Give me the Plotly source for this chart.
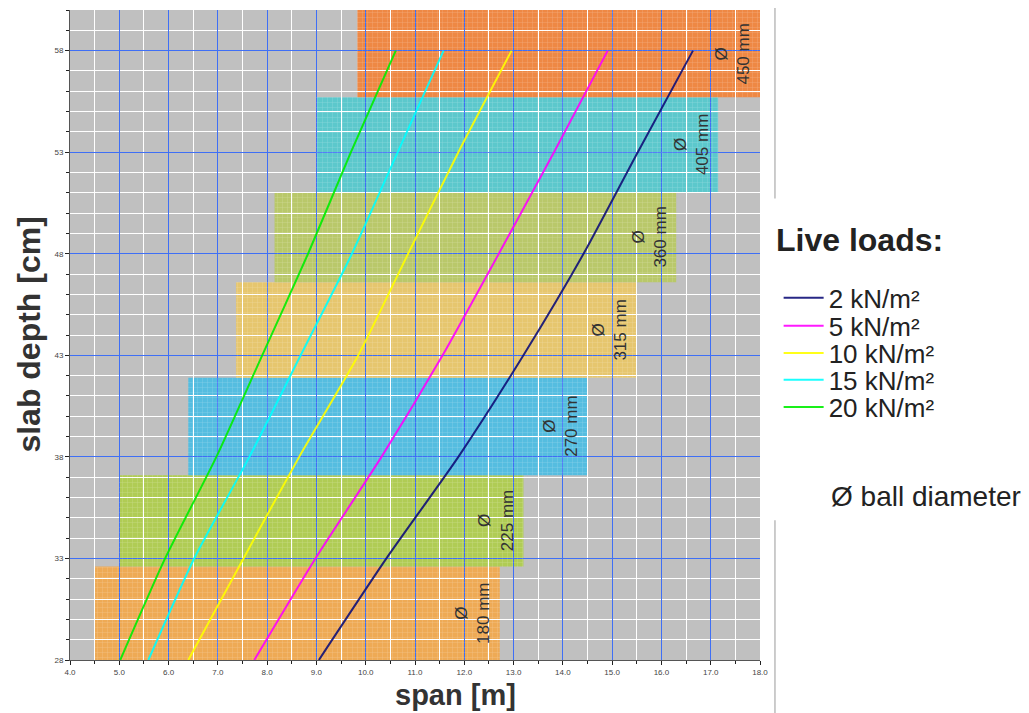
import plotly.graph_objects as go

# ---- data ----
depth = [28, 33, 38, 43, 48, 53, 58]  # slab depth [cm]
span_2kn = [9.05, 10.42, 11.88, 13.20, 14.42, 15.52, 16.64]
span_5kn = [7.74, 8.98, 10.32, 11.56, 12.70, 13.82, 14.91]
span_10kn = [6.40, 7.52, 8.65, 9.85, 10.86, 11.88, 12.96]
span_15kn = [5.59, 6.52, 7.64, 8.68, 9.72, 10.65, 11.58]
span_20kn = [5.02, 5.93, 6.97, 7.90, 8.83, 9.70, 10.61]

load_names = ["2 kN/m²", "5 kN/m²", "10 kN/m²", "15 kN/m²", "20 kN/m²"]
load_colors = ["#101078", "#ff00ff", "#ffff00", "#00ffff", "#00ee00"]

ball_labels = ["180 mm", "225 mm", "270 mm", "315 mm", "360 mm", "405 mm", "450 mm"]
band_span_min = [4.5, 5.0, 6.4, 7.37, 8.15, 9.0, 9.83]
band_span_max = [12.72, 13.2, 14.5, 15.5, 16.3, 17.15, 18.0]
band_depth_min = [28.0, 32.6, 37.1, 41.9, 46.6, 51.0, 55.7]
band_depth_max = [32.6, 37.1, 41.9, 46.6, 51.0, 55.7, 60.0]
band_colors = ["#eeaa55", "#b0cc55", "#55bde0", "#e6c66e", "#b9c86a", "#5cc8cc", "#ee8844"]

x_ticks = [4.0 + i for i in range(15)]
y_ticks = [28, 33, 38, 43, 48, 53, 58]

FONT = "Arial, Liberation Sans, sans-serif"

fig = go.Figure()

# Band fills (below gridlines) and texture
shapes = []
for x0, x1, y0, y1, c in zip(band_span_min, band_span_max, band_depth_min, band_depth_max, band_colors):
    shapes.append(dict(type="rect", xref="x", yref="y", x0=x0, x1=x1, y0=y0, y1=y1,
                       fillcolor=c, line=dict(width=0), layer="below"))

fig.add_trace(go.Bar(
    x=[(a + b) / 2 for a, b in zip(band_span_min, band_span_max)],
    width=[b - a for a, b in zip(band_span_min, band_span_max)],
    base=band_depth_min,
    y=[b - a for a, b in zip(band_depth_min, band_depth_max)],
    marker=dict(color="rgba(255,255,255,0.35)", line=dict(width=0),
                pattern=dict(shape="+", size=5, solidity=0.12, fillmode="replace")),
    showlegend=False, hoverinfo="skip",
))

# one legend per load so rows sit at the reference spacing
legend_rows_y = [0.557, 0.514, 0.472, 0.431, 0.389]
legend_keys = ["legend", "legend2", "legend3", "legend4", "legend5"]
for name, col, xs, lk in zip(load_names, load_colors,
                             [span_2kn, span_5kn, span_10kn, span_15kn, span_20kn],
                             legend_keys):
    fig.add_trace(go.Scatter(
        x=xs, y=depth, mode="lines", name=name,
        line=dict(color=col, width=2, shape="spline", smoothing=0.6),
        opacity=0.9, legend=lk,
    ))

# Ball diameter labels
annotations = []
for lab, x1, y0, y1 in zip(ball_labels, band_span_max, band_depth_min, band_depth_max):
    annotations.append(dict(
        x=x1 - 0.55, y=(y0 + y1) / 2, xref="x", yref="y",
        text="Ø<br>" + lab, showarrow=False, textangle=-90,
        font=dict(family=FONT, size=17, color="#333333"),
    ))

annotations += [
    dict(text="<b>span [m]</b>", xref="paper", yref="paper", x=0.558, y=-0.081,
         showarrow=False, font=dict(family=FONT, size=29, color="#333333"),
         xanchor="center", yanchor="bottom"),
    dict(text="<b>slab depth [cm]</b>", xref="paper", yref="paper", x=-0.06, y=0.5,
         showarrow=False, textangle=-90, font=dict(family=FONT, size=32, color="#333333"),
         xanchor="center", yanchor="middle"),
    dict(text="<b>Live loads:</b>", xref="paper", yref="paper", x=1.02, y=0.646,
         showarrow=False, font=dict(family=FONT, size=32, color="#222222"),
         xanchor="left", yanchor="middle"),
    dict(text="Ø ball diameter", xref="paper", yref="paper", x=1.1, y=0.251,
         showarrow=False, font=dict(family=FONT, size=28, color="#222222"),
         xanchor="left", yanchor="middle"),
]

shapes += [
    dict(type="line", xref="paper", yref="paper", x0=1.0217, x1=1.0217, y0=1.02, y1=0.71,
         line=dict(color="#999999", width=1)),
    dict(type="line", xref="paper", yref="paper", x0=1.0217, x1=1.0217, y0=0.215, y1=-0.09,
         line=dict(color="#999999", width=1)),
]

legend_style = dict(x=1.027, xanchor="left", yanchor="middle",
                    font=dict(family=FONT, size=26, color="#222222"),
                    bgcolor="rgba(0,0,0,0)", itemwidth=40)

fig.update_layout(
    width=1021, height=705,
    margin=dict(l=62, r=269, t=2, b=53),
    paper_bgcolor="white", plot_bgcolor="#c0c0c0",
    font=dict(family=FONT, color="#333333"),
    shapes=shapes, annotations=annotations,
    barmode="overlay", bargap=0,
    showlegend=True,
    legend=dict(y=legend_rows_y[0], **legend_style),
    legend2=dict(y=legend_rows_y[1], **legend_style),
    legend3=dict(y=legend_rows_y[2], **legend_style),
    legend4=dict(y=legend_rows_y[3], **legend_style),
    legend5=dict(y=legend_rows_y[4], **legend_style),
)

fig.update_xaxes(
    range=[4, 18], tickmode="array", tickvals=x_ticks,
    ticktext=[f"{v:.1f}" for v in x_ticks],
    tickfont=dict(size=8, color="#444444"),
    ticks="outside", ticklen=4, tickcolor="#222222",
    showgrid=True, gridcolor="#3f6ff5", gridwidth=1,
    minor=dict(dtick=0.5, tick0=4, showgrid=True, gridcolor="white", gridwidth=1,
               ticks="outside", ticklen=3, tickcolor="#222222"),
    showline=True, linecolor="#555555", linewidth=1, zeroline=False,
)
fig.update_yaxes(
    range=[28, 60], tickmode="array", tickvals=y_ticks,
    ticktext=[str(v) for v in y_ticks],
    tickfont=dict(size=8, color="#444444"),
    ticks="outside", ticklen=4, tickcolor="#222222",
    showgrid=True, gridcolor="#3f6ff5", gridwidth=1,
    minor=dict(dtick=1, tick0=28, showgrid=True, gridcolor="white", gridwidth=1,
               ticks="outside", ticklen=3, tickcolor="#222222"),
    showline=True, linecolor="#555555", linewidth=1, zeroline=False,
)

fig.write_html("out.html")
